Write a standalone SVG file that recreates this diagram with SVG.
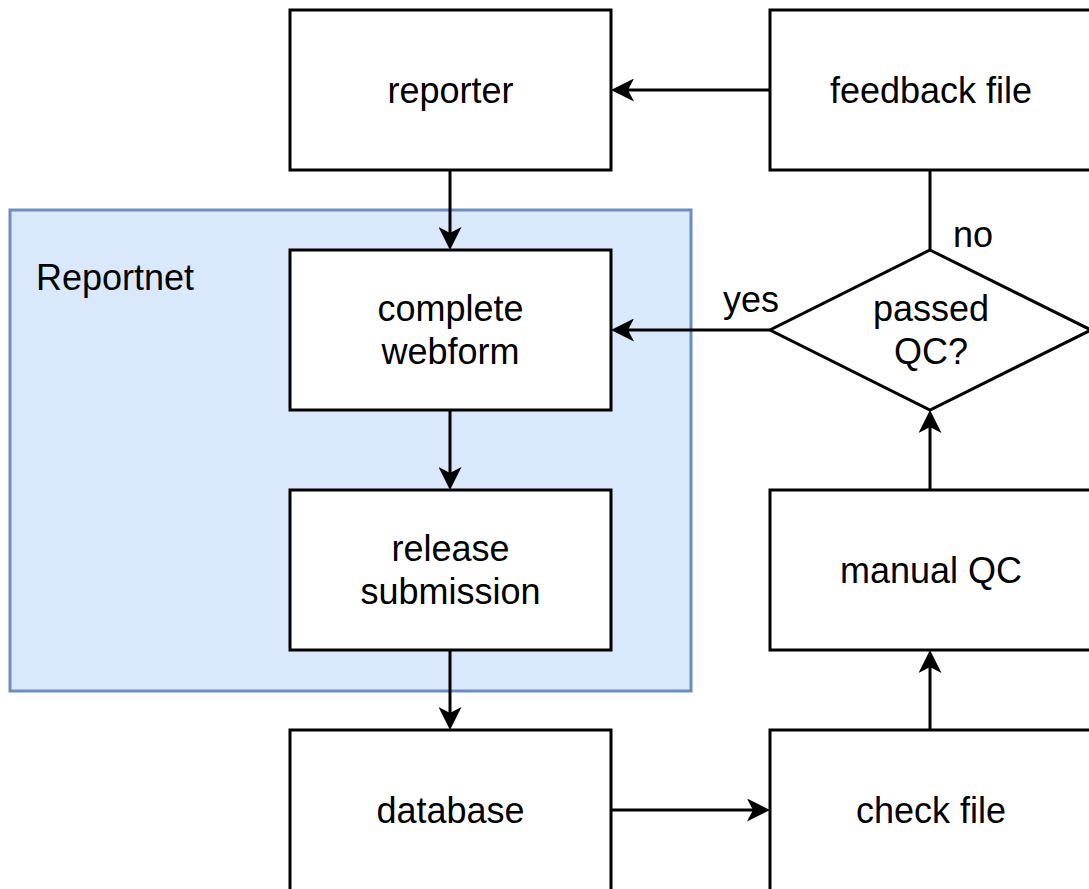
<svg xmlns="http://www.w3.org/2000/svg" width="1089" height="889" viewBox="0 0 1089 889">
<style>
.box{fill:#ffffff;stroke:#000000;stroke-width:3}
.cont{fill:#dae8fc;stroke:#6c8ebf;stroke-width:3}
.lbl{font-family:"Liberation Sans",Arial,sans-serif;font-size:36px;fill:#000000;text-anchor:middle}
.edge{fill:none;stroke:#000000;stroke-width:3}
.arr{marker-end:url(#ah)}
</style>
<defs>
<marker id="ah" viewBox="0 0 23 23" refX="6" refY="11.5" markerWidth="23" markerHeight="23" markerUnits="userSpaceOnUse" orient="auto">
<path d="M23,11.5 L0,0 L6,11.5 L0,23 Z" fill="#000000"/>
</marker>
</defs>
<rect width="1089" height="889" fill="#ffffff"/>
<g id="reportnet">
<rect class="cont" x="10" y="210" width="681" height="481"/>
<text class="lbl" x="36" y="290" style="text-anchor:start">Reportnet</text>
</g>
<g id="reporter">
<rect class="box" x="290" y="10" width="321" height="160"/>
<text class="lbl" x="450.5" y="102.5">reporter</text>
</g>
<g id="feedback">
<rect class="box" x="770" y="10" width="322" height="160"/>
<text class="lbl" x="931" y="102.5">feedback file</text>
</g>
<g id="webform">
<rect class="box" x="290" y="250" width="321" height="160"/>
<text class="lbl" x="450.5" y="321">complete</text>
<text class="lbl" x="450.5" y="364">webform</text>
</g>
<g id="release">
<rect class="box" x="290" y="490" width="321" height="160"/>
<text class="lbl" x="450.5" y="561">release</text>
<text class="lbl" x="450.5" y="604">submission</text>
</g>
<g id="database">
<rect class="box" x="290" y="730" width="321" height="170"/>
<text class="lbl" x="450.5" y="822.5">database</text>
</g>
<g id="checkfile">
<rect class="box" x="770" y="730" width="322" height="170"/>
<text class="lbl" x="931" y="822.5">check file</text>
</g>
<g id="manualqc">
<rect class="box" x="770" y="490" width="322" height="160"/>
<text class="lbl" x="931" y="582.5">manual QC</text>
</g>
<g id="passedqc">
<path class="box" d="M930,250 L1091,330 L930,410 L770,330 Z"/>
<text class="lbl" x="931" y="321">passed</text>
<text class="lbl" x="931" y="364">QC?</text>
</g>
<g id="connectors">
<line class="edge arr" x1="450" y1="170" x2="450" y2="233"/>
<line class="edge arr" x1="770" y1="90" x2="628" y2="90"/>
<line class="edge arr" x1="770" y1="330" x2="628" y2="330"/>
<line class="edge" x1="930" y1="170" x2="930" y2="250"/>
<line class="edge arr" x1="450" y1="410" x2="450" y2="473"/>
<line class="edge arr" x1="450" y1="650" x2="450" y2="713"/>
<line class="edge arr" x1="611" y1="810" x2="753" y2="810"/>
<line class="edge arr" x1="930" y1="730" x2="930" y2="667"/>
<line class="edge arr" x1="930" y1="490" x2="930" y2="427"/>
<text class="lbl" x="751" y="312">yes</text>
<text class="lbl" x="973" y="247">no</text>
</g>
</svg>
